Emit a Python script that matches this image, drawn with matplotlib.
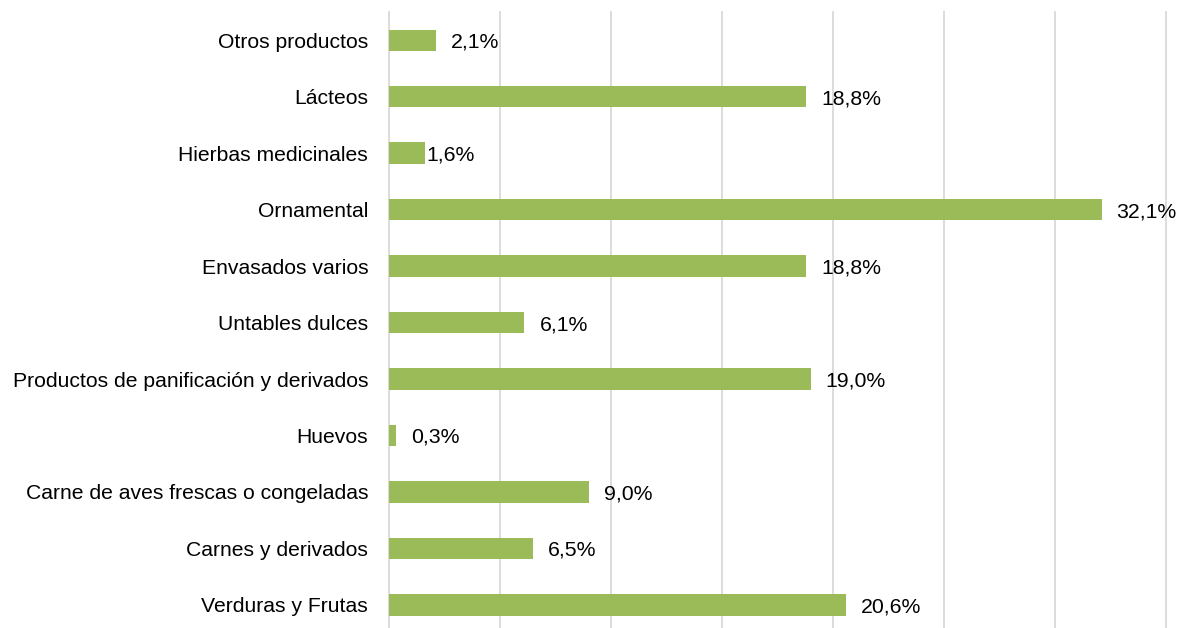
import matplotlib
matplotlib.use("Agg")
import matplotlib.pyplot as plt
from matplotlib.transforms import offset_copy

plt.rcParams['font.family'] = ['Liberation Sans', 'DejaVu Sans']

# categories from bottom to top
categories = [
    "Verduras y Frutas",
    "Carnes y derivados",
    "Carne de aves frescas o congeladas",
    "Huevos",
    "Productos de panificación y derivados",
    "Untables dulces",
    "Envasados varios",
    "Ornamental",
    "Hierbas medicinales",
    "Lácteos",
    "Otros productos",
]
values = [20.6, 6.5, 9.0, 0.3, 19.0, 6.1, 18.8, 32.1, 1.6, 18.8, 2.1]

bar_color = "#9BBB59"
grid_color = "#D9D9D9"

W, H = 1183, 628
fig = plt.figure(figsize=(W / 100, H / 100), dpi=100)
ax = fig.add_axes([389 / W, 0, (1166 - 389) / W, 616 / H])

y = list(range(len(categories)))
ax.barh(y, values, height=0.38, color=bar_color, zorder=2)

ax.set_xlim(0, 35)
ax.set_ylim(-0.41, len(categories) - 0.5)
ax.set_xticks(range(0, 40, 5))
ax.tick_params(axis="x", length=0, labelbottom=False)
ax.tick_params(axis="y", length=0, pad=15, labelsize=15.2)
ax.set_yticks(y, categories)
ax.grid(axis="x", color=grid_color, linewidth=1.3, zorder=0)
ax.grid(axis="y", visible=False)
for sp in ax.spines.values():
    sp.set_visible(False)
for gl in ax.get_xgridlines():
    gl.set_clip_on(False)

for yi, v in zip(y, values):
    off = 2 if v == 1.6 else 15
    tr = offset_copy(ax.transData, fig=fig, x=off, y=-2, units="dots")
    ax.text(v, yi, f"{v:.1f}%".replace(".", ","), transform=tr,
            va="center", ha="left", fontsize=15.3, color="black")

fig.savefig("out.png", dpi=100)
plt.close(fig)
